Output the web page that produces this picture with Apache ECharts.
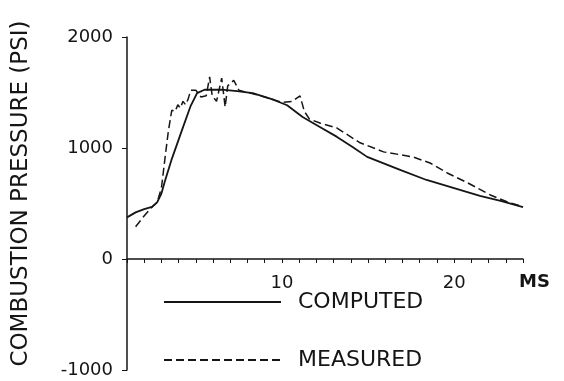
<!DOCTYPE html>
<html>
<head>
<meta charset="utf-8">
<script src="https://cdn.jsdelivr.net/npm/echarts@6/dist/echarts.min.js"></script>
<style>
  html, body { margin: 0; padding: 0; background: #fff; }
  #chart { width: 564px; height: 381px; }
</style>
</head>
<body>
<div id="chart"></div>
<script>
// time (ms), pressure (psi)
var computed = [
    [1.0, 375], [1.5, 420], [2.0, 450], [2.45, 470], [2.75, 510], [3.0, 590],
    [3.2, 700], [3.6, 900], [4.26, 1190], [4.7, 1380], [5.07, 1495], [5.5, 1525],
    [6.5, 1525], [7.4, 1513], [8.3, 1495], [9.5, 1435], [10.3, 1385], [11.2, 1280],
    [12.2, 1190], [13.2, 1100], [14.1, 1010], [14.95, 920], [16.9, 800], [18.4, 712],
    [19.95, 640], [21.5, 568], [22.7, 523], [24.0, 468]
];
var measured = [
    [1.5, 290], [1.9, 370], [2.4, 460], [2.75, 510], [3.0, 640], [3.2, 900],
    [3.4, 1150], [3.6, 1340], [3.8, 1330], [3.95, 1390], [4.1, 1360], [4.25, 1420],
    [4.4, 1390], [4.55, 1440], [4.7, 1520], [5.0, 1520], [5.3, 1460], [5.6, 1470],
    [5.8, 1640], [5.95, 1470], [6.2, 1420], [6.5, 1630], [6.7, 1370], [6.85, 1560],
    [7.2, 1610], [7.5, 1520], [8.0, 1500], [9.0, 1460], [10.0, 1410], [10.6, 1420],
    [11.05, 1470], [11.3, 1330], [11.6, 1260], [12.2, 1225], [13.2, 1180], [14.5, 1050],
    [15.9, 965], [17.6, 920], [18.6, 865], [19.6, 775], [20.8, 685], [22.1, 577],
    [23.1, 514], [24.0, 470]
];
var xLabels = [10, 20];
var seriesNames = ['COMPUTED', 'MEASURED'];

var myChart = echarts.init(document.getElementById('chart'));
var font = 'DejaVu Sans';
var ink = '#151515';

var option = {
    animation: false,
    backgroundColor: '#fff',
    grid: {
        left: 127,
        right: 41,
        top: 37,
        bottom: 11
    },
    legend: {
        orient: 'vertical',
        left: 163,
        top: 291,
        padding: 0,
        itemWidth: 117,
        itemHeight: 14,
        itemGap: 36,
        data: seriesNames,
        itemStyle: { opacity: 0 },
        textStyle: {
            fontFamily: font,
            fontSize: 22,
            lineHeight: 22,
            color: ink,
            padding: [0, 0, 0, 12]
        }
    },
    xAxis: {
        type: 'value',
        min: 1,
        max: 24,
        interval: 1,
        offset: -111,   // axis drawn along pressure = 0
        axisLine: {
            onZero: false,
            lineStyle: { color: ink, width: 1.5 }
        },
        axisTick: {
            inside: false,
            length: 4,
            lineStyle: { color: ink }
        },
        axisLabel: {
            margin: 15,
            fontFamily: font,
            fontSize: 18,
            color: ink,
            formatter: function (v) {
                return xLabels.indexOf(v) >= 0 ? String(v) : '';
            }
        },
        splitLine: { show: false }
    },
    yAxis: {
        type: 'value',
        min: -1000,
        max: 2000,
        interval: 1000,
        name: 'COMBUSTION PRESSURE (PSI)',
        nameLocation: 'middle',
        nameGap: 94,
        nameTextStyle: {
            fontFamily: font,
            fontSize: 23,
            color: ink,
            padding: [0, 0, 0, 20]
        },
        axisLine: {
            show: true,
            onZero: false,
            lineStyle: { color: ink, width: 1.5 }
        },
        axisTick: {
            show: true,
            length: 5,
            lineStyle: { color: ink }
        },
        axisLabel: {
            margin: 14,
            fontFamily: font,
            fontSize: 18,
            color: ink,
            formatter: function (v) { return String(v); }
        },
        splitLine: { show: false }
    },
    graphic: [{
        type: 'text',
        left: 519,
        top: 273,
        style: {
            text: 'MS',
            fontFamily: font,
            fontSize: 18,
            fontWeight: 'bold',
            fill: ink
        }
    }],
    series: [{
        name: seriesNames[0],
        type: 'line',
        data: computed,
        symbol: 'none',
        lineStyle: { color: ink, width: 1.8 },
        itemStyle: { color: ink }
    }, {
        name: seriesNames[1],
        type: 'line',
        data: measured,
        symbol: 'none',
        lineStyle: { color: ink, width: 1.5, type: [8, 4] },
        itemStyle: { color: ink }
    }]
};
myChart.setOption(option);
</script>
</body>
</html>
